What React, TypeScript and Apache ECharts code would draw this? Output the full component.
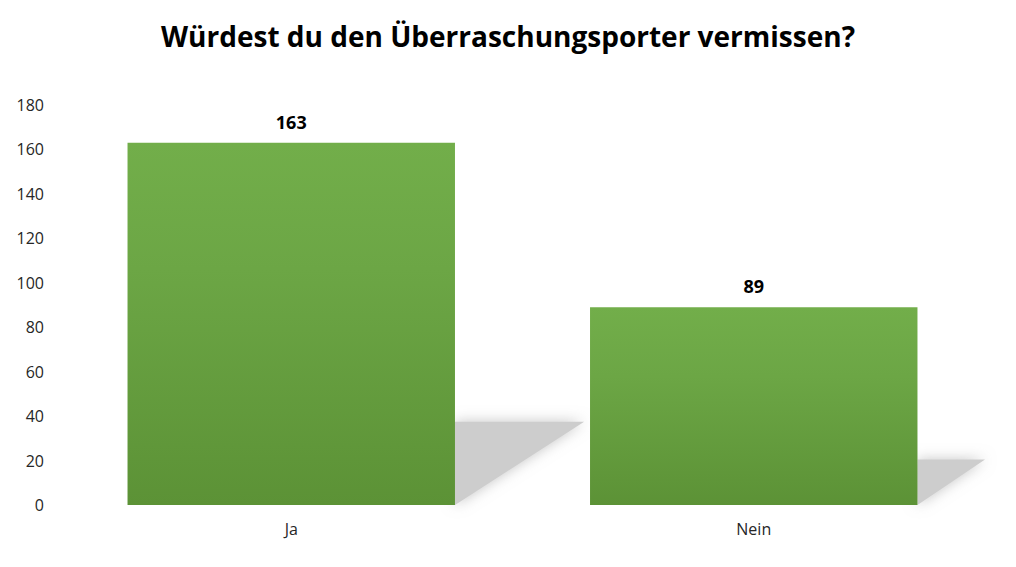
import React, { useEffect, useRef } from "react";
import * as echarts from "echarts";

const titleText = "Würdest du den Überraschungsporter vermissen?";
const categories = ["Ja", "Nein"];
const values = [163, 89];
const yTicks = { min: 0, max: 180, interval: 20 };

export default function App() {
  const ref = useRef<HTMLDivElement>(null);
  useEffect(() => {
    const chart = echarts.init(ref.current!, null, { renderer: "svg" });
    const font = "'Open Sans', 'Noto Sans', sans-serif";
    const option: any = {
      animation: false,
      backgroundColor: "#ffffff",
      title: {
        text: titleText,
        left: "center",
        top: 17,
        textStyle: { fontFamily: font, fontWeight: "bold", fontSize: 28, color: "#000000" },
      },
      grid: { left: 60, right: 31, top: 105, bottom: 62, containLabel: false },
      xAxis: {
        type: "category",
        data: categories,
        axisLine: { show: false },
        axisTick: { show: false },
        axisLabel: { fontFamily: font, fontSize: 16, color: "#262626", margin: 16 },
      },
      yAxis: {
        type: "value",
        min: yTicks.min,
        max: yTicks.max,
        interval: yTicks.interval,
        splitLine: { show: false },
        axisLine: { show: false },
        axisTick: { show: false },
        axisLabel: { fontFamily: font, fontSize: 16, color: "#262626", margin: 16 },
      },
      series: [
        {
          type: "custom",
          z: 1,
          data: values.map((v, i) => [i, v]),
          renderItem: (params: any, api: any) => {
            const idx = api.value(0);
            const v = api.value(1);
            const base = api.coord([idx, 0]);
            const top = api.coord([idx, v]);
            const size = api.size([1, 0]);
            const barW = size[0] * 0.708;
            const right = base[0] + barW / 2;
            const h = base[1] - top[1];
            const sh = h * 0.23;
            const dx = sh * 1.55;
            const cs = params.coordSys;
            const maxX = cs.x + cs.width;
            const pts = [
              [right, base[1] - sh],
              [Math.min(right + dx, maxX), base[1] - sh],
              [right, base[1]],
            ];
            return {
              type: "polygon",
              shape: { points: pts },
              style: {
                fill: "#cdcdcd",
                shadowBlur: 14,
                shadowColor: "rgba(190,190,190,0.9)",
              },
            };
          },
        },
        {
          type: "bar",
          z: 2,
          data: values,
          barWidth: "70.8%",
          itemStyle: {
            color: new echarts.graphic.LinearGradient(0, 0, 0, 1, [
              { offset: 0, color: "#72ae4a" },
              { offset: 0.35, color: "#6ca645" },
              { offset: 1, color: "#5c9236" },
            ]),
          },
          label: {
            show: true,
            position: "top",
            distance: 12,
            fontFamily: font,
            fontWeight: "bold",
            fontSize: 18,
            color: "#000000",
          },
        },
      ],
    };
    chart.setOption(option);
    return () => chart.dispose();
  }, []);
  return (
    <div
      ref={ref}
      style={{ position: "fixed", left: 0, top: 0, width: 1016, height: 567 }}
    />
  );
}
